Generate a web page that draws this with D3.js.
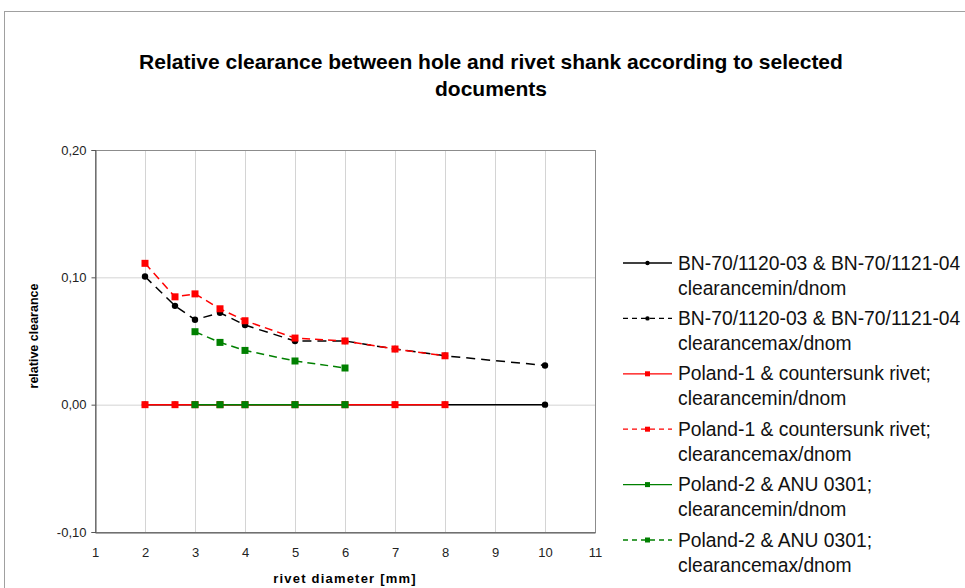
<!DOCTYPE html>
<html>
<head>
<meta charset="utf-8">
<script src="https://cdn.jsdelivr.net/npm/d3@7"></script>
<style>
  body { margin: 0; background: #fff; }
  svg { font-family: "Liberation Sans", Arial, sans-serif; }
</style>
</head>
<body>
<div id="chart"></div>
<script>
// data
var bnX = [2, 2.6, 3, 3.5, 4, 5, 6, 7, 8, 10];
var bnMin = [0, 0, 0, 0, 0, 0, 0, 0, 0, 0];
var bnMax = [0.1006, 0.0776, 0.0667, 0.0722, 0.0625, 0.0500, 0.0500, 0.0437, 0.0384, 0.0308];

var pl1X = [2, 2.6, 3, 3.5, 4, 5, 6, 7, 8];
var pl1Min = [0, 0, 0, 0, 0, 0, 0, 0, 0];
var pl1Max = [0.1110, 0.0847, 0.0870, 0.0753, 0.0659, 0.0523, 0.0500, 0.0437, 0.0384];

var pl2X = [3, 3.5, 4, 5, 6];
var pl2Min = [0, 0, 0, 0, 0];
var pl2Max = [0.0573, 0.0489, 0.0426, 0.0343, 0.0288];

var xTicks = [1, 2, 3, 4, 5, 6, 7, 8, 9, 10, 11];
var yTicks = [-0.10, 0.00, 0.10, 0.20];

var series = [
  { name: ["BN-70/1120-03 & BN-70/1121-04", "clearancemin/dnom"], x: bnX, y: bnMin, color: "#000000", dash: null, marker: "circle" },
  { name: ["BN-70/1120-03 & BN-70/1121-04", "clearancemax/dnom"], x: bnX, y: bnMax, color: "#000000", dash: "9,6", marker: "circle" },
  { name: ["Poland-1 & countersunk rivet;", "clearancemin/dnom"], x: pl1X, y: pl1Min, color: "#ff0000", dash: null, marker: "square" },
  { name: ["Poland-1 & countersunk rivet;", "clearancemax/dnom"], x: pl1X, y: pl1Max, color: "#ff0000", dash: "8,5", marker: "square" },
  { name: ["Poland-2 & ANU 0301;", "clearancemin/dnom"], x: pl2X, y: pl2Min, color: "#008000", dash: null, marker: "square" },
  { name: ["Poland-2 & ANU 0301;", "clearancemax/dnom"], x: pl2X, y: pl2Max, color: "#008000", dash: "8,5", marker: "square" }
];

var width = 965, height = 588;
var svg = d3.select("#chart").append("svg")
  .attr("width", width)
  .attr("height", height);

// outer frame
svg.append("rect")
  .attr("x", 4.5).attr("y", 11.5)
  .attr("width", 970).attr("height", 600)
  .attr("fill", "none").attr("stroke", "#a0a0a0");

// title
var title = svg.append("text")
  .attr("x", 491).attr("y", 69)
  .attr("text-anchor", "middle")
  .style("font-size", "21px").style("font-weight", "bold");
title.append("tspan").attr("x", 491).text("Relative clearance between hole and rivet shank according to selected");
title.append("tspan").attr("x", 491).attr("dy", 27).text("documents");

// scales
var x = d3.scaleLinear().domain([1, 11]).range([95, 595]);
var y = d3.scaleLinear().domain([-0.10, 0.20]).range([532, 150]);

// grid
svg.append("g").selectAll("line")
  .data(xTicks.slice(1))
  .enter().append("line")
  .attr("x1", d => x(d) + 0.5).attr("x2", d => x(d) + 0.5)
  .attr("y1", y(0.20)).attr("y2", y(-0.10))
  .attr("stroke", "#d4d4d4");
svg.append("g").selectAll("line")
  .data(yTicks)
  .enter().append("line")
  .attr("x1", x(1)).attr("x2", x(11))
  .attr("y1", d => y(d) + 0.5).attr("y2", d => y(d) + 0.5)
  .attr("stroke", "#d4d4d4");

// plot border
svg.append("rect")
  .attr("x", x(1) + 0.5).attr("y", y(0.20) + 0.5)
  .attr("width", x(11) - x(1)).attr("height", y(-0.10) - y(0.20))
  .attr("fill", "none").attr("stroke", "#8c8c8c");

// axes
var fmt = d => d3.format(".2f")(d).replace(".", ",").replace("−", "-");
var yAxis = d3.axisLeft(y).tickValues(yTicks).tickFormat(fmt).tickSize(4).tickPadding(5);
var gy = svg.append("g").attr("transform", "translate(" + (x(1) + 0.5) + ",0)").call(yAxis);
gy.select(".domain").attr("stroke", "#555");
gy.selectAll(".tick line").attr("stroke", "#555");
gy.selectAll("text").style("font-size", "13px").style("font-family", "Liberation Sans, Arial, sans-serif").attr("fill", "#222");

var xAxis = d3.axisBottom(x).tickValues(xTicks).tickFormat(d3.format("d")).tickSize(0).tickPadding(15);
var gx = svg.append("g").attr("transform", "translate(0," + (y(-0.10) + 0.5) + ")").call(xAxis);
gx.select(".domain").attr("stroke", "#555");
gx.selectAll("text").style("font-size", "13px").style("font-family", "Liberation Sans, Arial, sans-serif").attr("fill", "#222");

// axis titles
svg.append("text")
  .attr("x", 345).attr("y", 583)
  .attr("text-anchor", "middle")
  .style("font-size", "13px").style("font-weight", "bold").style("letter-spacing", "1.2px")
  .text("rivet diameter [mm]");
svg.append("text")
  .attr("transform", "translate(38,336) rotate(-90)")
  .attr("text-anchor", "middle")
  .style("font-size", "12.5px").style("font-weight", "bold")
  .text("relative clearance");

// series
var line = d3.line().x(d => x(d[0])).y(d => y(d[1]));
series.forEach(function (s) {
  var pts = s.x.map((v, i) => [v, s.y[i]]);
  var g = svg.append("g");
  g.append("path")
    .attr("d", line(pts))
    .attr("fill", "none")
    .attr("stroke", s.color)
    .attr("stroke-width", 1.5)
    .attr("stroke-dasharray", s.dash);
  if (s.marker == "circle") {
    g.selectAll("circle").data(pts).enter().append("circle")
      .attr("cx", d => x(d[0])).attr("cy", d => y(d[1])).attr("r", 3.2)
      .attr("fill", s.color);
  } else {
    g.selectAll("rect").data(pts).enter().append("rect")
      .attr("x", d => x(d[0]) - 3.5).attr("y", d => y(d[1]) - 3.5)
      .attr("width", 7).attr("height", 7)
      .attr("fill", s.color);
  }
});

// legend
var legend = svg.append("g").attr("transform", "translate(623,263)");
series.forEach(function (s, i) {
  var g = legend.append("g").attr("transform", "translate(0," + (i * 55.4) + ")");
  g.append("line")
    .attr("x1", 0).attr("x2", 49).attr("y1", 0).attr("y2", 0)
    .attr("stroke", s.color).attr("stroke-width", 1.3)
    .attr("stroke-dasharray", s.dash ? "5,4" : null);
  if (s.marker == "circle") {
    g.append("circle").attr("cx", 24.5).attr("cy", 0).attr("r", 2.2).attr("fill", s.color);
  } else {
    g.append("rect").attr("x", 22).attr("y", -2.5).attr("width", 5).attr("height", 5).attr("fill", s.color);
  }
  var t = g.append("text").attr("x", 55).attr("y", 6.5)
    .style("font-size", "19.3px").attr("fill", "#111");
  t.append("tspan").attr("x", 55).text(s.name[0]);
  t.append("tspan").attr("x", 55).attr("dy", 25).text(s.name[1]);
});
</script>
</body>
</html>
